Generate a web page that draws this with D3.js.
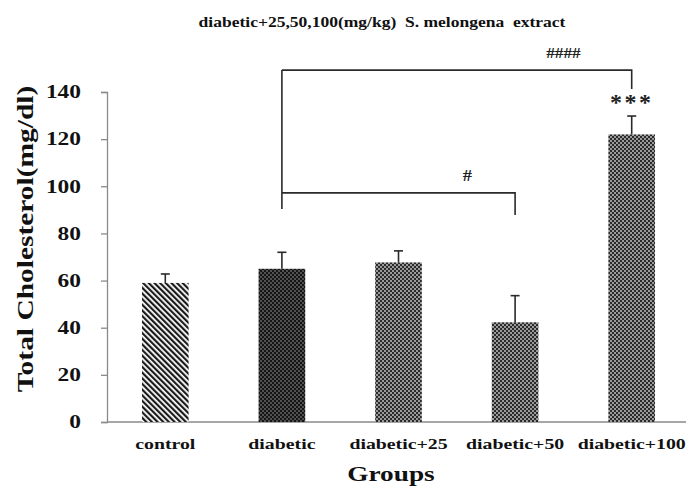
<!DOCTYPE html>
<html>
<head>
<meta charset="utf-8">
<script src="https://cdn.jsdelivr.net/npm/d3@7"></script>
<style>
  body { margin: 0; background: #fff; }
  svg { display: block; }
  text { font-family: "Liberation Serif", "Times New Roman", serif; font-weight: bold; }
</style>
</head>
<body>
<svg id="chart" width="686" height="488"></svg>
<script>
// data
var groups = ["control", "diabetic", "diabetic+25", "diabetic+50", "diabetic+100"];
var means = [59, 65, 67.7, 42.3, 122];
var errors = [3.8, 7, 4.9, 11.3, 7.8];
var fills = ["stripe", "dark", "grey", "grey", "grey"];
var yTicks = [0, 20, 40, 60, 80, 100, 120, 140];

// significance brackets (values in mg/dl)
var bracketFrom = ["diabetic", "diabetic"];
var bracketTo = ["diabetic+100", "diabetic+50"];
var bracketLevel = [149.3, 97.2];
var bracketDrop = [141.3, 87.8];
var bracketLabel = ["####", "#"];
var bracketStem = 90.4;
var starLabel = "***";

var SERIF = "Liberation Serif, Times New Roman, serif";
var svg = d3.select("#chart");

// the original figure is stretched sideways, so widen the glyphs a bit
function stretch(sel, k) {
  sel.each(function () {
    var w = this.getComputedTextLength();
    d3.select(this).attr("textLength", w * k).attr("lengthAdjust", "spacingAndGlyphs");
  });
}

// patterns
var defs = svg.append("defs");
var stripe = defs.append("pattern")
  .attr("id", "stripe")
  .attr("patternUnits", "userSpaceOnUse")
  .attr("width", 4).attr("height", 4)
  .attr("patternTransform", "rotate(-45)");
stripe.append("rect").attr("width", 4).attr("height", 4).attr("fill", "#fff");
stripe.append("rect").attr("width", 2.2).attr("height", 4).attr("fill", "#1a1a1a");

var dark = defs.append("pattern")
  .attr("id", "dark")
  .attr("patternUnits", "userSpaceOnUse")
  .attr("width", 4).attr("height", 4);
dark.append("rect").attr("width", 4).attr("height", 4).attr("fill", "#151515");
dark.append("circle").attr("cx", 1).attr("cy", 1).attr("r", 0.8).attr("fill", "#9a9a9a");
dark.append("circle").attr("cx", 3).attr("cy", 3).attr("r", 0.8).attr("fill", "#9a9a9a");

var grey = defs.append("pattern")
  .attr("id", "grey")
  .attr("patternUnits", "userSpaceOnUse")
  .attr("width", 4).attr("height", 4);
grey.append("rect").attr("width", 4).attr("height", 4).attr("fill", "#9a9a9a");
grey.append("rect").attr("x", 0).attr("y", 0).attr("width", 2).attr("height", 2).attr("fill", "#2a2a2a");
grey.append("rect").attr("x", 2).attr("y", 2).attr("width", 2).attr("height", 2).attr("fill", "#2a2a2a");

// scales
var x = d3.scaleBand()
  .domain(groups)
  .range([107, 690])
  .paddingInner(0.6)
  .paddingOuter(0.3);

var y = d3.scaleLinear()
  .domain([0, 140])
  .range([422, 92]);

// y axis
var yAxis = svg.append("g")
  .attr("transform", "translate(107,0)")
  .call(d3.axisLeft(y).tickValues(yTicks).tickSize(6).tickPadding(20));
yAxis.select(".domain").attr("stroke", "#8a8a8a").attr("stroke-width", 1.3);
yAxis.selectAll(".tick line").attr("stroke", "#8a8a8a").attr("stroke-width", 1.3);
yAxis.selectAll(".tick text")
  .attr("font-size", 18)
  .attr("font-weight", "bold")
  .attr("font-family", SERIF)
  .attr("fill", "#111")
  .call(stretch, 1.3);

// x axis
var xAxis = svg.append("g")
  .attr("transform", "translate(0,422)")
  .call(d3.axisBottom(x).tickSize(0).tickPadding(16));
xAxis.select(".domain").attr("d", "M107,0H686").attr("stroke", "#8a8a8a").attr("stroke-width", 1.3);
xAxis.selectAll(".tick text")
  .attr("font-size", 15)
  .attr("font-weight", "bold")
  .attr("font-family", SERIF)
  .attr("fill", "#111")
  .call(stretch, 1.32);

// bars
svg.append("g").selectAll("rect")
  .data(groups)
  .join("rect")
  .attr("x", d => x(d))
  .attr("width", x.bandwidth())
  .attr("y", (d, i) => y(means[i]))
  .attr("height", (d, i) => y(0) - y(means[i]))
  .attr("fill", (d, i) => "url(#" + fills[i] + ")");

// error bars
var eb = svg.append("g").attr("stroke", "#2a2a2a").attr("stroke-width", 1.6);
groups.forEach(function (g, i) {
  var cx = x(g) + x.bandwidth() / 2;
  eb.append("line")
    .attr("x1", cx).attr("x2", cx)
    .attr("y1", y(means[i])).attr("y2", y(means[i] + errors[i]));
  eb.append("line")
    .attr("x1", cx - 4.5).attr("x2", cx + 4.5)
    .attr("y1", y(means[i] + errors[i])).attr("y2", y(means[i] + errors[i]));
});

// brackets
var br = svg.append("g").attr("stroke", "#2a2a2a").attr("stroke-width", 1.6).attr("fill", "none");
var stemX = x(bracketFrom[0]) + x.bandwidth() / 2;
br.append("line")
  .attr("x1", stemX).attr("x2", stemX)
  .attr("y1", y(d3.max(bracketLevel))).attr("y2", y(bracketStem));
bracketFrom.forEach(function (f, i) {
  var x0 = x(f) + x.bandwidth() / 2;
  var x1 = x(bracketTo[i]) + x.bandwidth() / 2;
  br.append("path")
    .attr("d", "M" + x0 + "," + y(bracketLevel[i]) + "H" + x1 + "V" + y(bracketDrop[i]));
  svg.append("text")
    .attr("x", x0 + (x1 - x0) * (i === 0 ? 0.805 : 0.795))
    .attr("y", y(bracketLevel[i]) - 12)
    .attr("text-anchor", "middle")
    .attr("font-family", SERIF)
    .attr("font-size", i === 0 ? 15 : 16)
    .attr("font-weight", "bold")
    .attr("fill", "#222")
    .text(bracketLabel[i])
    .call(stretch, 1.15);
});

// stars above the last bar
var lastG = groups[groups.length - 1];
svg.append("text")
  .attr("x", x(lastG) + x.bandwidth() / 2)
  .attr("y", y(means[4] + errors[4]) - 6)
  .attr("text-anchor", "middle")
  .attr("font-family", SERIF)
  .attr("font-size", 24)
  .attr("font-weight", "bold")
  .attr("letter-spacing", "2.5px")
  .attr("fill", "#222")
  .text(starLabel);

// title
svg.append("text")
  .attr("x", 382)
  .attr("y", 27)
  .attr("text-anchor", "middle")
  .attr("font-family", SERIF)
  .attr("font-size", 14)
  .attr("font-weight", "bold")
  .attr("fill", "#111")
  .style("white-space", "pre")
  .text("diabetic+25,50,100(mg/kg)  S. melongena  extract")
  .call(stretch, 1.25);

// axis titles
svg.append("text")
  .attr("transform", "translate(33,239) rotate(-90)")
  .attr("text-anchor", "middle")
  .attr("font-family", SERIF)
  .attr("font-size", 23)
  .attr("font-weight", "bold")
  .attr("fill", "#111")
  .text("Total Cholesterol(mg/dl)")
  .call(stretch, 1.28);

svg.append("text")
  .attr("x", 391)
  .attr("y", 481)
  .attr("text-anchor", "middle")
  .attr("font-family", SERIF)
  .attr("font-size", 21)
  .attr("font-weight", "bold")
  .attr("fill", "#111")
  .text("Groups")
  .call(stretch, 1.3);
</script>
</body>
</html>
